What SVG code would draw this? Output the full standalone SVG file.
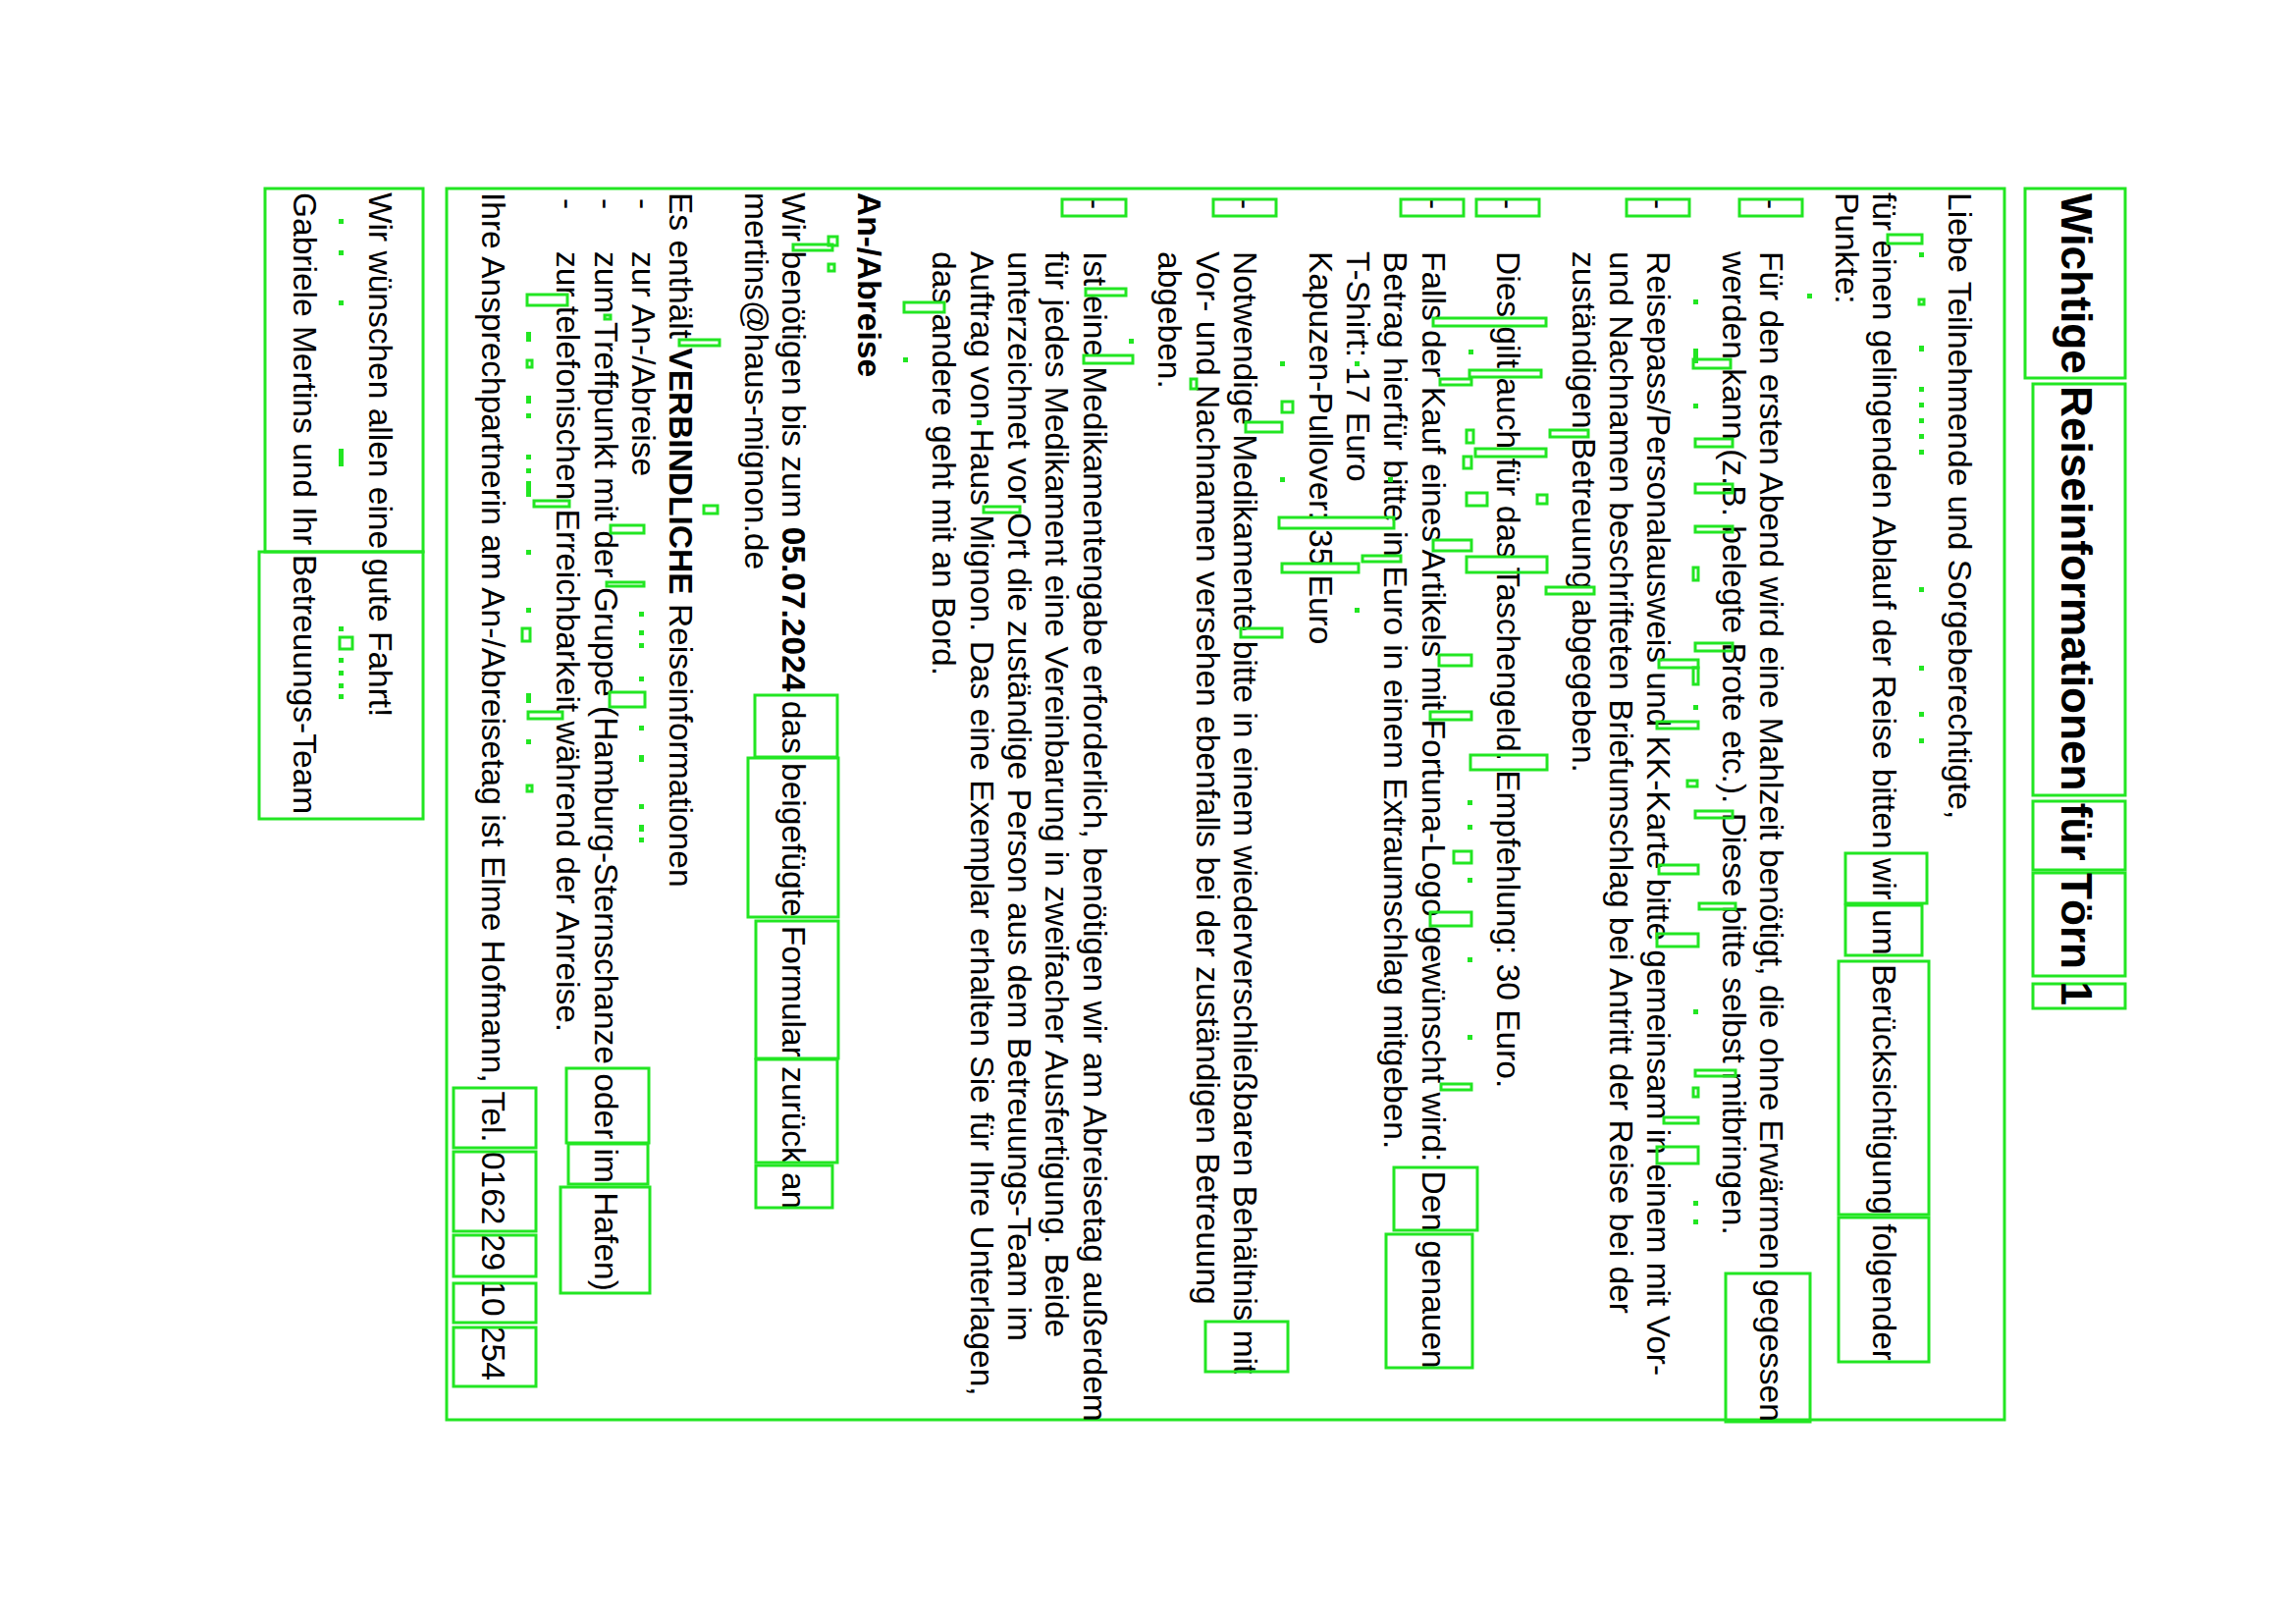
<svg xmlns="http://www.w3.org/2000/svg" width="2339" height="1654" viewBox="0 0 2339 1654">
<style>
.t{font-family:"Liberation Sans",Arial,sans-serif;font-size:33.5px;fill:#000}
.ti{font-family:"Liberation Sans",Arial,sans-serif;font-size:44.2px;font-weight:bold;fill:#000}
.b{font-weight:bold}
.gb{fill:none;stroke:#22e622;stroke-width:3}
.gd{fill:#22e622}
</style>
<rect width="2339" height="1654" fill="#fff"/>

<g id="title">
  <rect class="gb" x="2063" y="192" width="102" height="193"/>
  <rect class="gb" x="2071" y="391" width="94" height="419"/>
  <rect class="gb" x="2071" y="816" width="94" height="70"/>
  <rect class="gb" x="2071" y="889" width="94" height="105"/>
  <rect class="gb" x="2071" y="1002" width="94" height="25"/>
  <g transform="rotate(90)">
    <text class="ti" x="197" y="-2100">Wichtige Reiseinformationen für Törn 1</text>
  </g>
</g>

<g id="main">
  <rect class="gb" x="455" y="192" width="1587" height="1254"/>
  <g transform="rotate(90)">
    <text class="t" x="196" y="-1985">Liebe Teilnehmende und Sorgeberechtigte,</text>
    <text class="t" x="196" y="-1908.4">für einen gelingenden Ablauf der Reise bitten wir um Berücksichtigung folgender</text>
    <text class="t" x="196" y="-1870">Punkte:</text>
    <text class="t" x="202" y="-1793.4">-</text>
    <text class="t" x="256" y="-1793.4">Für den ersten Abend wird eine Mahlzeit benötigt, die ohne Erwärmen gegessen</text>
    <text class="t" x="256" y="-1755.1">werden kann (z.B. belegte Brote etc.). Diese bitte selbst mitbringen.</text>
    <text class="t" x="202" y="-1678.4">-</text>
    <text class="t" x="256" y="-1678.4">Reisepass/Personalausweis und KK-Karte bitte gemeinsam in einem mit Vor-</text>
    <text class="t" x="256" y="-1640.1">und Nachnamen beschrifteten Briefumschlag bei Antritt der Reise bei der</text>
    <text class="t" x="256" y="-1601.8">zuständigen Betreuung abgegeben.</text>
    <text class="t" x="202" y="-1525.2">-</text>
    <text class="t" x="256" y="-1525.2">Dies gilt auch für das Taschengeld. Empfehlung: 30 Euro.</text>
    <text class="t" x="202" y="-1448.5">-</text>
    <text class="t" x="256" y="-1448.5">Falls der Kauf eines Artikels mit Fortuna-Logo gewünscht wird: Den genauen</text>
    <text class="t" x="256" y="-1410.2">Betrag hierfür bitte in Euro in einem Extraumschlag mitgeben.</text>
    <text class="t" x="256" y="-1371.9">T-Shirt: 17 Euro</text>
    <text class="t" x="256" y="-1333.6">Kapuzen-Pullover: 35 Euro</text>
    <text class="t" x="202" y="-1256.9">-</text>
    <text class="t" x="256" y="-1256.9">Notwendige Medikamente bitte in einem wiederverschließbaren Behältnis mit</text>
    <text class="t" x="256" y="-1218.6">Vor- und Nachnamen versehen ebenfalls bei der zuständigen Betreuung</text>
    <text class="t" x="256" y="-1180.3">abgeben.</text>
    <text class="t" x="202" y="-1103.6">-</text>
    <text class="t" x="256" y="-1103.6">Ist eine Medikamentengabe erforderlich, benötigen wir am Abreisetag außerdem</text>
    <text class="t" x="256" y="-1065.3">für jedes Medikament eine Vereinbarung in zweifacher Ausfertigung. Beide</text>
    <text class="t" x="256" y="-1027">unterzeichnet vor Ort die zuständige Person aus dem Betreuungs-Team im</text>
    <text class="t" x="256" y="-988.7">Auftrag von Haus Mignon. Das eine Exemplar erhalten Sie für Ihre Unterlagen,</text>
    <text class="t" x="256" y="-950.4">das andere geht mit an Bord.</text>
    <text class="t b" x="196" y="-873.7">An-/Abreise</text>
    <text class="t" x="196" y="-797.1">Wir benötigen bis zum <tspan class="b">05.07.2024</tspan> das beigefügte Formular zurück an</text>
    <text class="t" x="196" y="-758.8">mertins@haus-mignon.de</text>
    <text class="t" x="196" y="-682.1">Es enthält <tspan class="b">VERBINDLICHE</tspan> Reiseinformationen</text>
    <text class="t" x="202" y="-643.8">-</text>
    <text class="t" x="256" y="-643.8">zur An-/Abreise</text>
    <text class="t" x="202" y="-605.5">-</text>
    <text class="t" x="256" y="-605.5">zum Treffpunkt mit der Gruppe (Hamburg-Sternschanze oder im Hafen)</text>
    <text class="t" x="202" y="-567.2">-</text>
    <text class="t" x="256" y="-567.2">zur telefonischen Erreichbarkeit während der Anreise.</text>
    <text class="t" x="196" y="-490.5">Ihre Ansprechpartnerin am An-/Abreisetag ist Elme Hofmann, Tel. 0162 29 10 254</text>
  </g>
</g>

<g id="signoff">
  <rect class="gb" x="270" y="192" width="161" height="370"/>
  <rect class="gb" x="264" y="562" width="167" height="272"/>
  <g transform="rotate(90)">
    <text class="t" x="196" y="-375.6">Wir wünschen allen eine gute Fahrt!</text>
    <text class="t" x="196" y="-298.9">Gabriele Mertins und Ihr Betreuungs-Team</text>
  </g>
</g>

<g id="word-boxes">
  <rect class="gb" x="1880" y="869" width="83" height="51"/>
  <rect class="gb" x="1880" y="922" width="78" height="51"/>
  <rect class="gb" x="1873" y="979" width="92" height="258"/>
  <rect class="gb" x="1873" y="1240" width="92" height="147"/>
  <rect class="gb" x="1758" y="1297" width="86" height="151"/>
  <rect class="gb" x="1420" y="1189" width="85" height="64"/>
  <rect class="gb" x="1412" y="1257" width="88" height="136"/>
  <rect class="gb" x="1228" y="1346" width="84" height="51"/>
  <rect class="gb" x="769" y="708" width="84" height="63"/>
  <rect class="gb" x="762" y="772" width="92" height="162"/>
  <rect class="gb" x="770" y="938" width="84" height="140"/>
  <rect class="gb" x="770" y="1079" width="83" height="105"/>
  <rect class="gb" x="770" y="1187" width="78" height="43"/>
  <rect class="gb" x="577" y="1088" width="84" height="76"/>
  <rect class="gb" x="579" y="1165" width="81" height="41"/>
  <rect class="gb" x="571" y="1209" width="91" height="108"/>
  <rect class="gb" x="462" y="1108" width="84" height="61"/>
  <rect class="gb" x="462" y="1173" width="84" height="81"/>
  <rect class="gb" x="462" y="1258" width="84" height="42"/>
  <rect class="gb" x="462" y="1307" width="84" height="40"/>
  <rect class="gb" x="462" y="1352" width="84" height="60"/>
  <rect class="gb" x="1772" y="203" width="64" height="17"/>
  <rect class="gb" x="1657" y="203" width="64" height="17"/>
  <rect class="gb" x="1504" y="203" width="64" height="17"/>
  <rect class="gb" x="1427" y="203" width="64" height="17"/>
  <rect class="gb" x="1236" y="203" width="64" height="17"/>
  <rect class="gb" x="1082" y="203" width="65" height="17"/>
</g>

<g id="artifacts">
  <rect class="gb" x="1923" y="239" width="35" height="9"/>
  <rect class="gd" x="1955" y="257" width="5" height="5"/>
  <rect class="gb" x="1955" y="305" width="5" height="5"/>
  <rect class="gd" x="1955" y="352" width="5" height="6"/>
  <rect class="gd" x="1955" y="394" width="5" height="5"/>
  <rect class="gd" x="1955" y="410" width="5" height="5"/>
  <rect class="gd" x="1955" y="426" width="5" height="5"/>
  <rect class="gd" x="1955" y="442" width="5" height="5"/>
  <rect class="gd" x="1955" y="458" width="5" height="5"/>
  <rect class="gd" x="1955" y="598" width="5" height="5"/>
  <rect class="gd" x="1955" y="678" width="5" height="5"/>
  <rect class="gd" x="1955" y="725" width="5" height="5"/>
  <rect class="gd" x="1955" y="752" width="5" height="5"/>
  <rect class="gd" x="1841" y="299" width="5" height="5"/>
  <rect class="gd" x="1725" y="305" width="5" height="5"/>
  <rect class="gb" x="1725" y="366" width="38" height="9"/>
  <rect class="gd" x="1725" y="355" width="5" height="15"/>
  <rect class="gd" x="1725" y="411" width="5" height="5"/>
  <rect class="gb" x="1727" y="447" width="38" height="8"/>
  <rect class="gb" x="1727" y="493" width="38" height="9"/>
  <rect class="gb" x="1727" y="536" width="38" height="6"/>
  <rect class="gb" x="1725" y="578" width="5" height="13"/>
  <rect class="gb" x="1727" y="655" width="38" height="8"/>
  <rect class="gb" x="1725" y="680" width="5" height="17"/>
  <rect class="gd" x="1725" y="718" width="5" height="5"/>
  <rect class="gb" x="1719" y="795" width="10" height="6"/>
  <rect class="gb" x="1727" y="826" width="38" height="7"/>
  <rect class="gb" x="1731" y="920" width="37" height="6"/>
  <rect class="gd" x="1725" y="1028" width="5" height="5"/>
  <rect class="gb" x="1727" y="1090" width="41" height="6"/>
  <rect class="gb" x="1725" y="1108" width="5" height="9"/>
  <rect class="gd" x="1725" y="1223" width="5" height="5"/>
  <rect class="gd" x="1725" y="1242" width="5" height="5"/>
  <rect class="gb" x="1690" y="672" width="40" height="8"/>
  <rect class="gb" x="1688" y="735" width="42" height="7"/>
  <rect class="gb" x="1690" y="881" width="40" height="9"/>
  <rect class="gb" x="1688" y="951" width="42" height="13"/>
  <rect class="gb" x="1695" y="1138" width="35" height="6"/>
  <rect class="gb" x="1688" y="1168" width="42" height="17"/>
  <rect class="gb" x="1460" y="324" width="115" height="8"/>
  <rect class="gb" x="1497" y="377" width="73" height="7"/>
  <rect class="gb" x="1467" y="386" width="32" height="6"/>
  <rect class="gd" x="1496" y="356" width="5" height="5"/>
  <rect class="gb" x="1579" y="438" width="39" height="7"/>
  <rect class="gb" x="1494" y="438" width="7" height="13"/>
  <rect class="gb" x="1491" y="465" width="8" height="12"/>
  <rect class="gb" x="1503" y="457" width="72" height="8"/>
  <rect class="gb" x="1566" y="504" width="10" height="9"/>
  <rect class="gb" x="1494" y="502" width="21" height="13"/>
  <rect class="gb" x="1460" y="550" width="39" height="11"/>
  <rect class="gb" x="1494" y="567" width="82" height="16"/>
  <rect class="gb" x="1575" y="598" width="49" height="7"/>
  <rect class="gb" x="1466" y="667" width="33" height="11"/>
  <rect class="gb" x="1457" y="725" width="42" height="8"/>
  <rect class="gb" x="1498" y="769" width="78" height="15"/>
  <rect class="gd" x="1495" y="815" width="5" height="5"/>
  <rect class="gd" x="1495" y="840" width="5" height="5"/>
  <rect class="gb" x="1481" y="867" width="18" height="12"/>
  <rect class="gd" x="1495" y="894" width="5" height="5"/>
  <rect class="gb" x="1457" y="929" width="42" height="14"/>
  <rect class="gd" x="1495" y="975" width="5" height="5"/>
  <rect class="gd" x="1495" y="1054" width="5" height="5"/>
  <rect class="gb" x="1468" y="1104" width="31" height="6"/>
  <rect class="gb" x="1303" y="527" width="117" height="11"/>
  <rect class="gb" x="1306" y="574" width="78" height="9"/>
  <rect class="gb" x="1388" y="566" width="39" height="6"/>
  <rect class="gd" x="1380" y="619" width="5" height="5"/>
  <rect class="gb" x="1306" y="409" width="11" height="11"/>
  <rect class="gd" x="1304" y="368" width="5" height="5"/>
  <rect class="gd" x="1304" y="486" width="5" height="5"/>
  <rect class="gd" x="1380" y="368" width="5" height="5"/>
  <rect class="gd" x="1414" y="486" width="5" height="5"/>
  <rect class="gb" x="1269" y="430" width="37" height="10"/>
  <rect class="gb" x="1264" y="640" width="42" height="9"/>
  <rect class="gb" x="1213" y="386" width="6" height="10"/>
  <rect class="gb" x="1106" y="294" width="41" height="7"/>
  <rect class="gb" x="1104" y="362" width="50" height="8"/>
  <rect class="gd" x="1150" y="345" width="5" height="5"/>
  <rect class="gb" x="1002" y="516" width="37" height="6"/>
  <rect class="gd" x="995" y="428" width="5" height="5"/>
  <rect class="gb" x="921" y="308" width="41" height="10"/>
  <rect class="gd" x="920" y="364" width="5" height="5"/>
  <rect class="gb" x="808" y="249" width="40" height="6"/>
  <rect class="gb" x="844" y="241" width="9" height="9"/>
  <rect class="gb" x="844" y="269" width="6" height="7"/>
  <rect class="gb" x="692" y="346" width="41" height="6"/>
  <rect class="gb" x="717" y="515" width="14" height="8"/>
  <rect class="gb" x="616" y="321" width="6" height="4"/>
  <rect class="gb" x="622" y="535" width="34" height="8"/>
  <rect class="gb" x="618" y="593" width="38" height="4"/>
  <rect class="gd" x="651" y="623" width="5" height="5"/>
  <rect class="gd" x="651" y="642" width="5" height="5"/>
  <rect class="gd" x="651" y="655" width="5" height="5"/>
  <rect class="gd" x="651" y="689" width="5" height="5"/>
  <rect class="gb" x="621" y="705" width="36" height="15"/>
  <rect class="gd" x="651" y="739" width="5" height="5"/>
  <rect class="gd" x="651" y="769" width="5" height="7"/>
  <rect class="gd" x="651" y="819" width="5" height="5"/>
  <rect class="gd" x="651" y="840" width="5" height="7"/>
  <rect class="gd" x="651" y="853" width="5" height="5"/>
  <rect class="gb" x="537" y="300" width="41" height="11"/>
  <rect class="gd" x="536" y="338" width="5" height="10"/>
  <rect class="gb" x="537" y="367" width="5" height="7"/>
  <rect class="gd" x="536" y="403" width="5" height="8"/>
  <rect class="gd" x="536" y="421" width="5" height="5"/>
  <rect class="gd" x="536" y="463" width="5" height="5"/>
  <rect class="gd" x="536" y="477" width="5" height="5"/>
  <rect class="gd" x="536" y="490" width="5" height="16"/>
  <rect class="gb" x="544" y="510" width="36" height="6"/>
  <rect class="gd" x="536" y="560" width="5" height="5"/>
  <rect class="gd" x="536" y="619" width="5" height="5"/>
  <rect class="gb" x="532" y="640" width="8" height="13"/>
  <rect class="gd" x="536" y="706" width="5" height="10"/>
  <rect class="gb" x="538" y="725" width="35" height="7"/>
  <rect class="gd" x="536" y="753" width="5" height="5"/>
  <rect class="gb" x="537" y="800" width="5" height="6"/>
  <rect class="gd" x="345" y="223" width="5" height="5"/>
  <rect class="gd" x="345" y="255" width="5" height="5"/>
  <rect class="gd" x="345" y="306" width="5" height="5"/>
  <rect class="gd" x="345" y="457" width="5" height="18"/>
  <rect class="gd" x="345" y="638" width="5" height="5"/>
  <rect class="gb" x="346" y="649" width="13" height="12"/>
  <rect class="gd" x="345" y="670" width="5" height="5"/>
  <rect class="gd" x="345" y="683" width="5" height="5"/>
  <rect class="gd" x="345" y="696" width="5" height="5"/>
  <rect class="gd" x="345" y="707" width="5" height="5"/>
</g>
</svg>
